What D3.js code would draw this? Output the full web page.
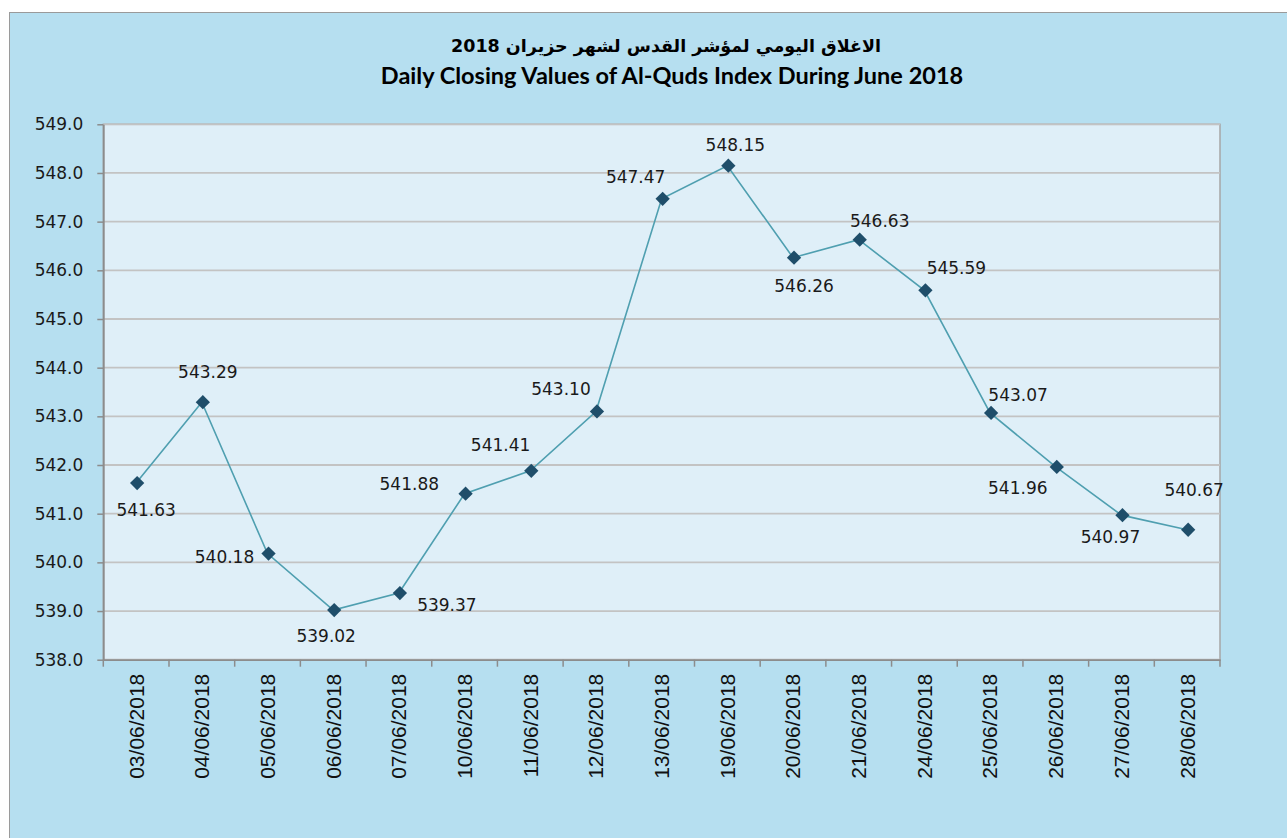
<!DOCTYPE html>
<html>
<head>
<meta charset="utf-8">
<script src="https://cdn.jsdelivr.net/npm/d3@7"></script>
<style>
  body { margin: 0; background: #ffffff; }
  svg { display: block; }
</style>
</head>
<body>
<div id="chart"></div>
<script>
// Data
var dates  = ['03/06/2018', '04/06/2018', '05/06/2018', '06/06/2018', '07/06/2018',
              '10/06/2018', '11/06/2018', '12/06/2018', '13/06/2018', '19/06/2018',
              '20/06/2018', '21/06/2018', '24/06/2018', '25/06/2018', '26/06/2018',
              '27/06/2018', '28/06/2018'];
var closes = [541.63, 543.29, 540.18, 539.02, 539.37, 541.41, 541.88, 543.10, 547.47,
              548.15, 546.26, 546.63, 545.59, 543.07, 541.96, 540.97, 540.67];
var yTicks = [538, 539, 540, 541, 542, 543, 544, 545, 546, 547, 548, 549];
var titleAr = 'الاغلاق اليومي لمؤشر القدس لشهر حزيران  2018';
var titleEn = 'Daily Closing Values of Al-Quds Index During June 2018';

// where each value label sits relative to its point (dx, dy)
var labelShift = [[10, 27], [6, -30], [-43, 3], [-7, 26], [48, 12], [36, -49],
                  [-121, 13], [-35, -23], [-26, -22], [8, -21], [11, 28], [21, -19],
                  [32, -22], [28, -18], [-38, 21], [-11, 22], [7, -40]];

var chart_width  = 1287;
var chart_height = 838;
var plot = { left: 103.3, right: 1220, top: 124.3, bottom: 659.7 };

var svg = d3.select('#chart')
            .append('svg')
            .attr('width', chart_width)
            .attr('height', chart_height);

// outer chart area
svg.append('rect')
   .attr('x', 9.5).attr('y', 12.5)
   .attr('width', chart_width).attr('height', chart_height)
   .attr('fill', '#b6dff0')
   .attr('stroke', '#9a9a9a')
   .attr('stroke-width', 1);

// titles
svg.append('text')
   .attr('x', 666).attr('y', 52)
   .attr('text-anchor', 'middle')
   .attr('direction', 'rtl')
   .style('font-family', '"DejaVu Sans", sans-serif')
   .style('font-weight', 'bold')
   .style('font-size', '17.5px')
   .attr('fill', '#000')
   .text(titleAr);

svg.append('text')
   .attr('x', 672).attr('y', 84)
   .attr('text-anchor', 'middle')
   .style('font-family', 'Lato, sans-serif')
   .style('font-weight', 'bold')
   .style('font-size', '23.5px')
   .attr('fill', '#000')
   .text(titleEn);

// scales
var x = d3.scaleBand()
          .domain(dates)
          .range([plot.left, plot.right])
          .paddingInner(0)
          .paddingOuter(0);

var y = d3.scaleLinear()
          .domain([538, 549])
          .range([plot.bottom, plot.top]);

// plot area
svg.append('rect')
   .attr('x', plot.left).attr('y', plot.top)
   .attr('width', plot.right - plot.left)
   .attr('height', plot.bottom - plot.top)
   .attr('fill', '#dfeff8')
   .attr('stroke', '#a6a6a6')
   .attr('stroke-width', 1.5);

// gridlines
svg.append('g')
   .selectAll('line')
   .data(yTicks)
   .enter()
   .append('line')
   .attr('x1', plot.left).attr('x2', plot.right)
   .attr('y1', function(d){ return y(d); })
   .attr('y2', function(d){ return y(d); })
   .attr('stroke', '#c3c3c3')
   .attr('stroke-width', 1.8);

// y axis
var yAxis = svg.append('g')
   .attr('transform', 'translate(' + plot.left + ',0)')
   .call(d3.axisLeft(y)
           .tickValues(yTicks)
           .tickFormat(d3.format('.1f'))
           .tickSize(6)
           .tickSizeOuter(0)
           .tickPadding(14));
yAxis.select('.domain').attr('stroke', '#8c8c8c').attr('stroke-width', 1.8);
yAxis.selectAll('.tick line').attr('stroke', '#8c8c8c').attr('stroke-width', 1.5);
yAxis.selectAll('.tick text')
     .style('font-family', '"DejaVu Sans", sans-serif')
     .style('font-size', '17px')
     .attr('fill', '#1a1a1a');

// x axis: labels at band centres, tick marks at band edges
var xAxis = svg.append('g')
   .attr('transform', 'translate(0,' + plot.bottom + ')')
   .call(d3.axisBottom(x).tickSize(0).tickSizeOuter(0));
xAxis.select('.domain').attr('stroke', '#8c8c8c').attr('stroke-width', 1.8);
xAxis.selectAll('.tick text')
     .attr('transform', 'rotate(-90)')
     .attr('x', -14)
     .attr('y', 0)
     .attr('dy', '0.35em')
     .attr('text-anchor', 'end')
     .style('font-family', '"Liberation Sans", Arial, sans-serif')
     .style('font-size', '21px')
     .attr('fill', '#111');

var edges = dates.map(function(d){ return x(d); }).concat([plot.right]);
svg.append('g')
   .selectAll('line')
   .data(edges)
   .enter()
   .append('line')
   .attr('x1', function(d){ return d; })
   .attr('x2', function(d){ return d; })
   .attr('y1', plot.bottom)
   .attr('y2', plot.bottom + 7)
   .attr('stroke', '#8c8c8c')
   .attr('stroke-width', 1.5);

// line
var cx = function(d, i){ return x(dates[i]) + x.bandwidth() / 2; };
var line = d3.line()
             .x(function(d, i){ return cx(d, i); })
             .y(function(d){ return y(d); });

svg.append('path')
   .datum(closes)
   .attr('d', line)
   .attr('fill', 'none')
   .attr('stroke', '#4f9fb0')
   .attr('stroke-width', 1.6);

// markers
svg.append('g')
   .selectAll('path')
   .data(closes)
   .enter()
   .append('path')
   .attr('d', d3.symbol().type(d3.symbolDiamond2).size(130))
   .attr('transform', function(d, i){
     return 'translate(' + (cx(d, i) + 1) + ',' + y(d) + ')';
   })
   .attr('fill', '#1f4e6a');

// value labels
svg.append('g')
   .selectAll('text')
   .data(closes)
   .enter()
   .append('text')
   .attr('x', function(d, i){ return cx(d, i) + labelShift[i][0]; })
   .attr('y', function(d, i){ return y(d) + labelShift[i][1]; })
   .attr('dy', '0.36em')
   .attr('text-anchor', 'middle')
   .style('font-family', '"DejaVu Sans", sans-serif')
   .style('font-size', '17px')
   .attr('fill', '#1a1a1a')
   .text(function(d){ return d.toFixed(2); });
</script>
</body>
</html>
